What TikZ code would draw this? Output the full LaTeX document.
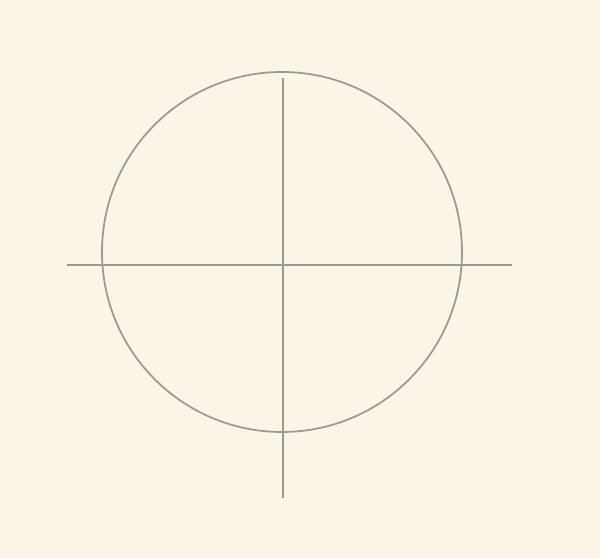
\documentclass[tikz,border=0pt]{standalone}
\usepackage{xcolor}
\usepackage{tikz}
\usetikzlibrary{calc}
\definecolor{PAPER}{HTML}{FBF5E8}
\definecolor{PENCIL}{HTML}{9A9A94}

\begin{document}
\begin{tikzpicture}
    % Paper
    \fill[PAPER] (0,0) rectangle (6,5.58);
    \useasboundingbox (0,0) rectangle (6,5.58);
    % Circle
    \draw[PENCIL, line width=0.5pt] (2.82,3.06) circle (1.80);
    % Horizontal line
    \draw[PENCIL, line width=0.5pt] (0.67,2.93) -- (5.12,2.93);
    % Vertical line
    \draw[PENCIL, line width=0.5pt] (2.83,4.80) -- (2.83,0.60);
\end{tikzpicture}
\end{document}
